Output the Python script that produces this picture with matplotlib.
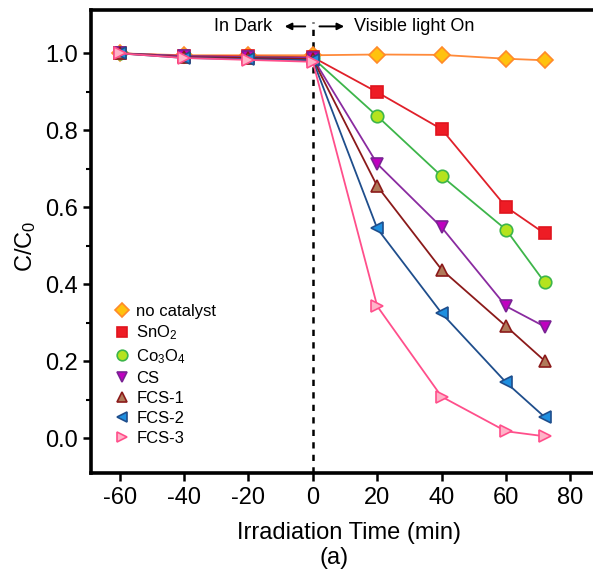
import numpy as np
import matplotlib
matplotlib.use("Agg")
from matplotlib import pyplot as plt

plt.rcParams['font.family'] = ['Liberation Sans', 'DejaVu Sans']
plt.rcParams['mathtext.fontset'] = 'custom'
plt.rcParams['mathtext.rm'] = 'Liberation Sans'
plt.rcParams['mathtext.it'] = 'Liberation Sans:italic'
plt.rcParams['axes.unicode_minus'] = False

# irradiation time (min)
timeData = [-60, -40, -20, 0, 20, 40, 60, 72]

noCatData = [1.000, 0.995, 0.995, 0.995, 0.997, 0.996, 0.986, 0.982]
sno2Data  = [1.000, 0.993, 0.992, 0.990, 0.899, 0.803, 0.601, 0.532]
co3o4Data = [1.000, 0.992, 0.990, 0.988, 0.837, 0.681, 0.542, 0.405]
csData    = [1.000, 0.993, 0.990, 0.988, 0.713, 0.548, 0.343, 0.290]
fcs1Data  = [1.000, 0.990, 0.988, 0.985, 0.655, 0.438, 0.291, 0.201]
fcs2Data  = [1.000, 0.988, 0.985, 0.982, 0.545, 0.325, 0.145, 0.055]
fcs3Data  = [1.000, 0.988, 0.983, 0.978, 0.343, 0.108, 0.018, 0.005]

labels = ["no catalyst", "SnO$_2$", "Co$_3$O$_4$", "CS", "FCS-1", "FCS-2", "FCS-3"]

# (marker, size, face, edge, line)
styles = [
    ("D", 8, "#FFC20E", "#FF8A2A", "#FF8A3A"),
    ("s", 8, "#EE1C25", "#E0141E", "#E0202A"),
    ("o", 9, "#B5E31E", "#3DB54A", "#3DB54A"),
    ("v", 9, "#C000C0", "#7A2394", "#8A2BA0"),
    ("^", 9, "#B07A5A", "#8B1A1A", "#8B1A1A"),
    ("<", 9, "#1E8FE0", "#1F4E8C", "#1F4E8C"),
    (">", 9, "#FFB3C8", "#FF4F8B", "#FF4F8B"),
]

allData = [noCatData, sno2Data, co3o4Data, csData, fcs1Data, fcs2Data, fcs3Data]

fig = plt.figure(figsize=(5.93, 5.69), dpi=100)
ax = fig.add_axes([0.154, 0.169, 0.86, 0.813])

for yArr, lab, st in zip(allData, labels, styles):
    mk, ms, fc, ec, lc = st
    ax.plot(timeData, yArr, color=lc, lw=1.3, marker=mk, markersize=ms,
            markerfacecolor=fc, markeredgecolor=ec, markeredgewidth=1.2,
            label=lab, clip_on=False)

ax.axvline(0, ymin=0.0, ymax=0.974, color="black", lw=1.8, ls=(0, (2.5, 2.5)), zorder=0)

ax.set_xlim(-68.8, 89.6)
ax.set_ylim(-0.09, 1.112)
ax.set_xticks([-60, -40, -20, 0, 20, 40, 60, 80])
ax.set_yticks([0.0, 0.2, 0.4, 0.6, 0.8, 1.0])
ax.set_yticks([0.1, 0.3, 0.5, 0.7, 0.9], minor=True)
ax.yaxis.set_major_formatter(matplotlib.ticker.FormatStrFormatter('%.1f'))
ax.tick_params(axis='both', which='major', direction='out', length=5.5, width=1.8, labelsize=17)
ax.tick_params(axis='x', which='major', pad=5)
ax.tick_params(axis='y', which='major', pad=4)
ax.tick_params(axis='y', which='minor', direction='out', length=3.5, width=1.5)

for s in ['left', 'top', 'bottom']:
    ax.spines[s].set_linewidth(2.6)
ax.spines['right'].set_visible(False)

ax.set_xlabel("Irradiation Time (min)", fontsize=17)
ax.xaxis.label.set_va('center')
ax.xaxis.set_label_coords(0.505, -0.13)
ax.set_ylabel("C/C$_0$", fontsize=17)
ax.yaxis.label.set_va('center')
ax.yaxis.set_label_coords(-0.128, 0.49)
fig.text(334 / 593, 1 - 558 / 569, "(a)", fontsize=17, ha='center', va='center')

# dark / light annotation
ax.text(-12.7, 1.070, "In Dark", fontsize=13, ha='right', va='center')
ax.annotate("", xy=(-9.6, 1.070), xytext=(-1.5, 1.070),
            arrowprops=dict(arrowstyle="-|>", color="black", lw=1.4, mutation_scale=10))
ax.annotate("", xy=(10.6, 1.070), xytext=(1.2, 1.070),
            arrowprops=dict(arrowstyle="-|>", color="black", lw=1.4, mutation_scale=10))
ax.text(12.8, 1.070, "Visible light On", fontsize=13, ha='left', va='center')

leg = ax.legend(loc='center left', bbox_to_anchor=(0.047, 0.212), frameon=False, fontsize=12,
                handlelength=0.8, handletextpad=0.46, labelspacing=0.3,
                borderaxespad=0.0, borderpad=0.0, markerscale=0.85)
for h in leg.legend_handles:
    h.set_linestyle('none')

fig.savefig("out.png", dpi=100)
